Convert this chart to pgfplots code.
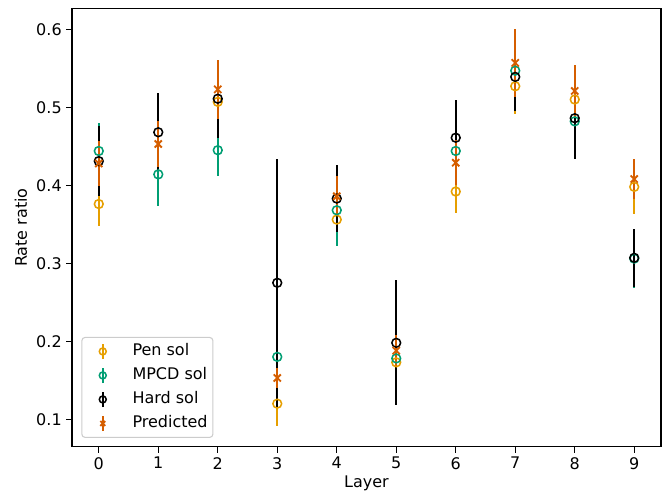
\documentclass[border=0pt]{standalone}
\usepackage{pgfplots}
\pgfplotsset{compat=1.18}
\usepackage{fontspec}
\setmainfont{DejaVu Sans}
\definecolor{cpen}{HTML}{E69F00}
\definecolor{cmpcd}{HTML}{009E73}
\definecolor{chard}{HTML}{000000}
\definecolor{cpred}{HTML}{D55E00}
\pgfplotsset{
  eb/.style={color=#1, only marks, line width=1.7pt,
    mark options={line width=1.15pt, solid, fill=none},
    error bars/y dir=both, error bars/y explicit,
    error bars/error bar style={line width=1.7pt, color=#1}, error bars/error mark=none},
  ebleg/.style={legend image code/.code={
    \path[draw=none, fill=none] (0pt,0pt) -- (34pt,0pt);
    \draw[##1, line width=1.7pt] (13.7pt,-0.2cm) -- (13.7pt,0.2cm);
    \draw[##1, mark size=2.6pt] plot coordinates {(13.7pt,0cm)};}}
}
\begin{document}
\begin{tikzpicture}
\begin{axis}[
  name=ax,
  scale only axis, width=441.75pt, height=329pt,
  xmin=-0.45, xmax=9.45, ymin=0.0645, ymax=0.627,
  xtick={0,...,9}, ytick={0.1,0.2,0.3,0.4,0.5,0.6},
  yticklabel style={/pgf/number format/fixed, /pgf/number format/precision=1, /pgf/number format/fixed zerofill},
  /pgf/number format/assume math mode=true,
  tick align=outside, xtick pos=bottom, ytick pos=left,
  major tick length=4.2pt, tick style={line width=0.8pt, black},
  axis line style={line width=0.8pt},
  ticklabel style={font=\fontsize{12}{14}\selectfont},
  label style={font=\fontsize{12}{14}\selectfont},
  xlabel={Layer}, ylabel={Rate ratio},
  xlabel style={yshift=2pt}, ylabel style={yshift=0pt},
  legend cell align=left,
  legend style={at={(0.0158,0.0205)}, anchor=south west, draw=black!20, line width=0.8pt, rounded corners=2.5pt,
    font=\fontsize{12}{14}\selectfont, row sep=0pt, inner xsep=2pt, inner ysep=1.5pt,
    nodes={text height=9pt, text depth=3pt, inner ysep=3pt}},
]
\addplot[eb=cpen, mark=o, mark size=3.3pt, ebleg] table[x index=0, y index=1, y error index=2] {
0 0.376 0.028
2 0.507 0.030
3 0.120 0.029
4 0.356 0.020
5 0.173 0.020
6 0.392 0.027
7 0.527 0.036
8 0.510 0.030
9 0.398 0.035
};
\addlegendentry{Pen sol}
\addplot[eb=cmpcd, mark=o, mark size=3.3pt, ebleg] table[x index=0, y index=1, y error index=2] {
0 0.444 0.036
1 0.414 0.041
2 0.445 0.033
3 0.180 0.060
4 0.368 0.046
5 0.178 0.030
6 0.444 0.030
7 0.547 0.035
8 0.482 0.040
9 0.306 0.038
};
\addlegendentry{MPCD sol}
\addplot[eb=chard, mark=o, mark size=3.3pt, ebleg] table[x index=0, y index=1, y error index=2] {
0 0.431 0.045
1 0.468 0.050
2 0.511 0.050
3 0.275 0.159
4 0.383 0.043
5 0.198 0.080
6 0.461 0.048
7 0.539 0.044
8 0.486 0.052
9 0.307 0.037
};
\addlegendentry{Hard sol}
\addplot[eb=cpred, mark=x, mark size=3.8pt, mark options={line width=1.4pt}, ebleg] table[x index=0, y index=1, y error index=2] {
0 0.428 0.029
1 0.453 0.029
2 0.523 0.038
3 0.153 0.013
4 0.386 0.026
5 0.188 0.020
6 0.429 0.029
7 0.557 0.044
8 0.521 0.033
9 0.408 0.026
};
\addlegendentry{Predicted}
\end{axis}
\path (ax.south west) ++(-54pt,-37.5pt) coordinate (bl);
\path (ax.north east) ++(4.5pt,6.2pt) coordinate (tr);
\path (bl) rectangle (tr);
\end{tikzpicture}
\end{document}
